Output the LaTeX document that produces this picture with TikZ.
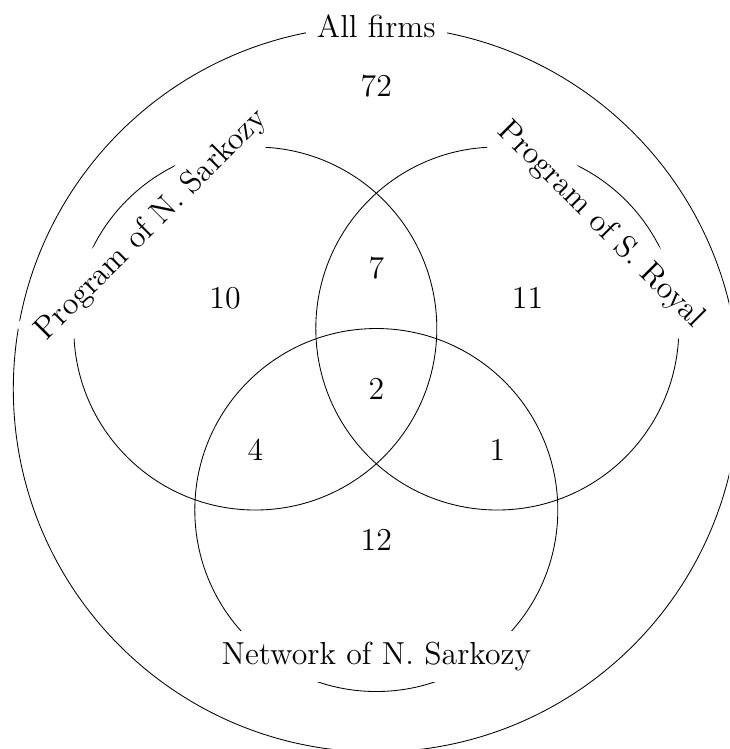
\documentclass[tikz,border=0pt]{standalone}
\usepackage{tikz}
\usetikzlibrary{positioning,calc}

\begin{document}
\begin{tikzpicture}[font=\Large, every node/.append style={scale=1.04}, setname/.style={fill=white, inner sep=5pt}]
\useasboundingbox (-6.22,-5.95) rectangle (5.83,6.43);
\clip (-6.22,-5.95) rectangle (5.83,6.43);

\coordinate (all) at (0,0);
\coordinate (sarkozy) at (-2,1);
\coordinate (royal) at (2,1);
\coordinate (network) at (0,-2);

\draw (all) circle (6);
\draw (sarkozy) circle (3);
\draw (royal) circle (3);
\draw (network) circle (3);

\node[setname] (allname) at ($(all)+(90:6)$) {All firms};
\node[setname, rotate=45] (sarkozyname) at ($(sarkozy)+(135:2.42)$) {Program of N. Sarkozy};
\node[setname, rotate=-45] (royalname) at ($(royal)+(45:2.42)$) {Program of S. Royal};
\node[setname] (networkname) at ($(network)+(270:2.42)$) {Network of N. Sarkozy};

\node (n72) at (0,5) {72};
\node (n10) at (-2.5,1.5) {10};
\node (n11) at (2.5,1.5) {11};
\node (n7) at (0,2) {7};
\node (n2) at (0,0) {2};
\node (n4) at (-2,-1) {4};
\node (n1) at (2,-1) {1};
\node (n12) at (0,-2.5) {12};
\end{tikzpicture}
\end{document}
